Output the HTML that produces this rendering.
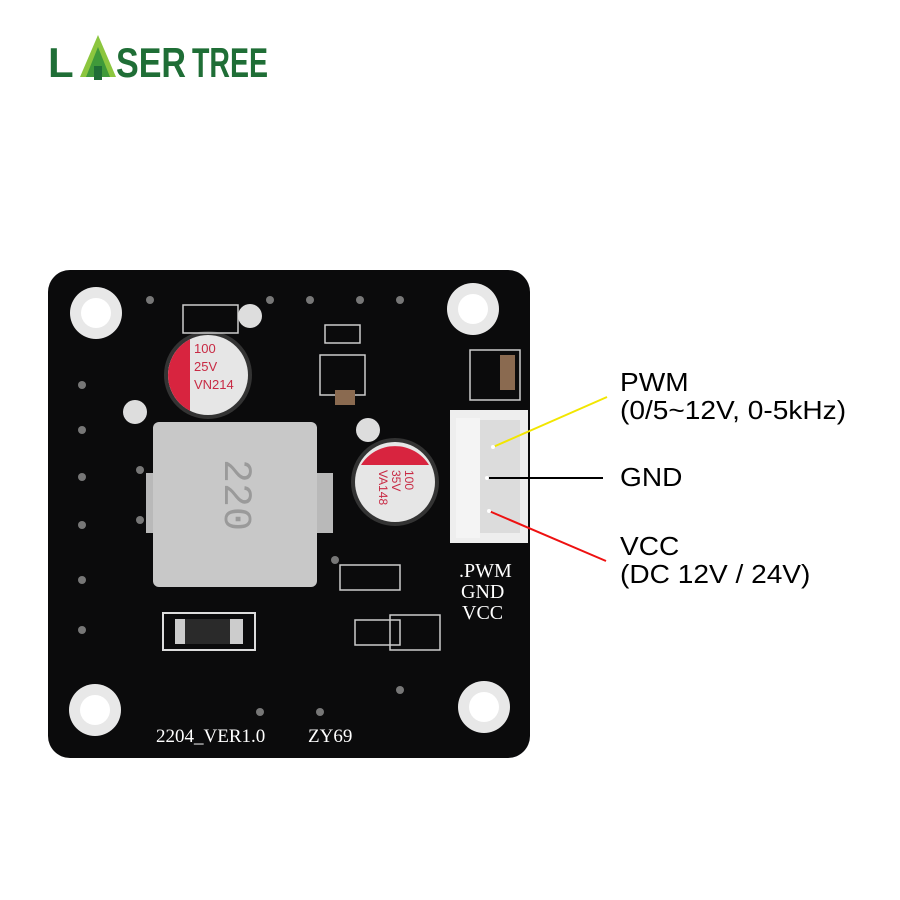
<!DOCTYPE html>
<html><head><style>
body{margin:0;width:900px;height:900px;background:#fff;overflow:hidden;position:relative;font-family:"Liberation Sans",sans-serif}
.lbl{position:absolute;left:620px;font-size:26px;color:#000;line-height:1;transform:scaleX(1.08);transform-origin:0 0;white-space:nowrap}
</style></head><body>
<svg width="900" height="900" style="position:absolute;left:0;top:0">
<!-- Logo -->
<g font-family="Liberation Sans" font-weight="bold" font-size="42" fill="#1f6e36">
<text x="48" y="77" textLength="30">L</text>
<polygon points="98,35 80,77 116,77" fill="#8cc63f"/>
<polygon points="98,47 86,77 110,77" fill="#3f9a3a"/>
<rect x="94" y="66" width="8" height="14" fill="#1f6e36"/>
<text x="116" y="77" textLength="70" lengthAdjust="spacingAndGlyphs">SER</text>
<text x="192" y="77" textLength="76" lengthAdjust="spacingAndGlyphs">TREE</text>
</g>
<!-- Board -->
<rect x="48" y="270" width="482" height="488" rx="22" fill="#0b0b0c"/>
<g fill="#e8e8e8">
<circle cx="96" cy="313" r="26"/><circle cx="473" cy="309" r="26"/>
<circle cx="95" cy="710" r="26"/><circle cx="484" cy="707" r="26"/>
</g>
<g fill="#fff">
<circle cx="96" cy="313" r="15"/><circle cx="473" cy="309" r="15"/>
<circle cx="95" cy="710" r="15"/><circle cx="484" cy="707" r="15"/>
</g>
<!-- inductor -->
<rect x="146" y="473" width="187" height="60" fill="#b9b9b9"/>
<rect x="153" y="422" width="164" height="165" rx="6" fill="#c8c8c8"/>
<text x="235" y="505" font-family="Liberation Mono" font-size="40" fill="#9a9a9a" text-anchor="middle" transform="rotate(90 235 495)">220</text>
<!-- caps -->
<circle cx="208" cy="375" r="44" fill="#333"/>
<circle cx="208" cy="375" r="40" fill="#e6e6e6"/>
<path d="M190,339.3 A40,40 0 0 0 190,410.7 Z" fill="#d8243f"/>
<g font-size="13" fill="#c82a44" font-family="Liberation Sans"><text x="194" y="353">100</text><text x="194" y="371">25V</text><text x="194" y="389">VN214</text></g>
<circle cx="395" cy="482" r="44" fill="#333"/>
<circle cx="395" cy="482" r="40" fill="#e6e6e6"/>
<path d="M361,465 A40,40 0 0 1 429,465 Z" fill="#d8243f"/>
<g font-size="12" fill="#c82a44" transform="translate(395,482) rotate(90)"><text x="-12" y="-10">100</text><text x="-12" y="3">35V</text><text x="-12" y="16">VA148</text></g>
<!-- connector -->
<rect x="450" y="410" width="78" height="133" fill="#eeeeee"/>
<rect x="468" y="420" width="52" height="113" fill="#dcdcdc"/>
<rect x="456" y="418" width="24" height="120" fill="#f4f4f4"/>
<!-- diode -->
<rect x="163" y="613" width="92" height="37" fill="none" stroke="#ddd" stroke-width="2"/>
<rect x="175" y="619" width="68" height="25" fill="#2a2a2a"/>
<rect x="230" y="619" width="13" height="25" fill="#ccc"/>
<rect x="175" y="619" width="10" height="25" fill="#ccc"/>
<!-- small parts -->
<g fill="none" stroke="#ccc" stroke-width="1.5">
<rect x="183" y="305" width="55" height="28"/><rect x="340" y="565" width="60" height="25"/>
<rect x="355" y="620" width="45" height="25"/><rect x="390" y="615" width="50" height="35"/>
<rect x="320" y="355" width="45" height="40"/><rect x="325" y="325" width="35" height="18"/>
<rect x="470" y="350" width="50" height="50"/>
</g>
<rect x="500" y="355" width="15" height="35" fill="#8a6a50"/>
<rect x="335" y="390" width="20" height="15" fill="#8a6a50"/>
<g fill="#777">
<circle cx="150" cy="300" r="4"/><circle cx="82" cy="385" r="4"/><circle cx="82" cy="430" r="4"/><circle cx="82" cy="477" r="4"/><circle cx="82" cy="525" r="4"/><circle cx="82" cy="580" r="4"/><circle cx="82" cy="630" r="4"/>
<circle cx="140" cy="470" r="4"/><circle cx="140" cy="520" r="4"/><circle cx="270" cy="300" r="4"/><circle cx="310" cy="300" r="4"/><circle cx="360" cy="300" r="4"/><circle cx="400" cy="300" r="4"/>
<circle cx="335" cy="560" r="4"/><circle cx="260" cy="712" r="4"/><circle cx="320" cy="712" r="4"/><circle cx="400" cy="690" r="4"/>
<circle cx="135" cy="412" r="12" fill="#ddd"/><circle cx="250" cy="316" r="12" fill="#ddd"/><circle cx="368" cy="430" r="12" fill="#ddd"/>
</g>
<g font-family="Liberation Serif" fill="#fff" font-size="20">
<text x="459" y="577">.PWM</text><text x="461" y="598">GND</text><text x="462" y="619">VCC</text>
<text x="156" y="742" font-size="19">2204_VER1.0</text><text x="308" y="742" font-size="19">ZY69</text>
</g>
<!-- wires -->
<line x1="493" y1="447" x2="607" y2="397" stroke="#f2e600" stroke-width="2"/>
<line x1="487" y1="478" x2="603" y2="478" stroke="#000" stroke-width="2"/>
<line x1="489" y1="511" x2="606" y2="561" stroke="#e11" stroke-width="2"/>
<g fill="#fff"><circle cx="493" cy="447" r="2"/><circle cx="487" cy="478" r="2"/><circle cx="489" cy="511" r="2"/></g>
</svg>
<div class="lbl" style="top:369px">PWM</div>
<div class="lbl" style="top:397px">(0/5~12V, 0-5kHz)</div>
<div class="lbl" style="top:464px">GND</div>
<div class="lbl" style="top:533px">VCC</div>
<div class="lbl" style="top:561px">(DC 12V / 24V)</div>
</body></html>
